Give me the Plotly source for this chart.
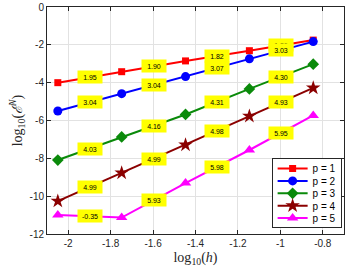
import plotly.graph_objects as go

# ---- data ----
log_h = [-2.049, -1.748, -1.447, -1.146, -0.845]
err_p1 = [-4.00, -3.42, -2.85, -2.31, -1.75]
err_p2 = [-5.50, -4.58, -3.68, -2.74, -1.83]
err_p3 = [-8.09, -6.87, -5.68, -4.33, -3.02]
err_p4 = [-10.26, -8.77, -7.29, -5.77, -4.28]
err_p5 = [-11.00, -11.13, -9.31, -7.56, -5.73]

rates_p1 = ["1.95", "1.90", "1.82", "1.86"]
rates_p2 = ["3.04", "3.04", "3.07", "3.03"]
rates_p3 = ["4.03", "4.16", "4.31", "4.30"]
rates_p4 = ["4.99", "4.99", "4.98", "4.93"]
rates_p5 = ["-0.35", "5.93", "5.98", "5.95"]

series_names = ["p = 1", "p = 2", "p = 3", "p = 4", "p = 5"]
x_tick_vals = [-2.0, -1.8, -1.6, -1.4, -1.2, -1.0, -0.8]
x_tick_text = ["-2", "-1.8", "-1.6", "-1.4", "-1.2", "-1", "-0.8"]
y_tick_vals = [0, -2, -4, -6, -8, -10, -12]
y_tick_text = ["0", "-2", "-4", "-6", "-8", "-10", "-12"]

# ---- styles ----
errs = [err_p1, err_p2, err_p3, err_p4, err_p5]
rates = [rates_p1, rates_p2, rates_p3, rates_p4, rates_p5]
colors = ["#ff0000", "#0000ff", "#0a8a0a", "#8b0000", "#ff00ff"]
symbols = ["square", "circle", "diamond", "star", "triangle-up"]
sizes = [7, 9, 9, 11, 10]

fig = go.Figure()
for name, ys, c, s, sz in zip(series_names, errs, colors, symbols, sizes):
    fig.add_trace(go.Scatter(
        x=log_h, y=ys, mode="lines+markers", name=name,
        line=dict(color=c, width=2),
        marker=dict(symbol=s, size=sz, color=c, line=dict(width=0)),
    ))

annotations = []
for ys, rs in zip(errs, rates):
    for i, r in enumerate(rs):
        annotations.append(dict(
            x=(log_h[i] + log_h[i + 1]) / 2, y=(ys[i] + ys[i + 1]) / 2,
            xref="x", yref="y", text=r, showarrow=False,
            bgcolor="#ffff00", width=24, height=12, borderpad=0,
            font=dict(family="Liberation Sans, Arial", size=7, color="#000000"),
        ))

axis_common = dict(
    showline=True, linecolor="#262626", linewidth=1, mirror="ticks",
    ticks="inside", ticklen=4, tickcolor="#262626",
    showgrid=True, gridcolor="#e2e2e2", gridwidth=1, zeroline=False,
    ticklabeloverflow="allow",
    tickfont=dict(family="Liberation Sans, Arial", size=10, color="#262626"),
)

fig.update_layout(
    width=346, height=271,
    margin=dict(l=47, r=1, t=5, b=37),
    paper_bgcolor="white", plot_bgcolor="white",
    hovermode=False,
    xaxis=dict(range=[-2.1, -0.7], tickvals=x_tick_vals, ticktext=x_tick_text,
               title=dict(text="log<sub>10</sub>(<i>h</i>)", standoff=4,
                          font=dict(family="Liberation Serif, DejaVu Serif", size=14, color="#262626")),
               **axis_common),
    yaxis=dict(range=[-12, 0], tickvals=y_tick_vals, ticktext=y_tick_text,
               title=dict(text="log<sub>10</sub>(<i>ℰ</i><sup><i>N</i></sup>)", standoff=3,
                          font=dict(family="Liberation Serif, DejaVu Serif", size=14, color="#262626")),
               **axis_common),
    legend=dict(x=0.992, y=0.032, xanchor="right", yanchor="bottom",
                bgcolor="white", bordercolor="#262626", borderwidth=1,
                font=dict(family="Liberation Sans, Arial", size=10, color="#000000"),
                itemwidth=30, tracegroupgap=0),
    annotations=annotations,
    showlegend=True,
)

# compact legend rows (MATLAB-style spacing) after plotly has drawn it
post_js = r"""
document.body.style.margin='0';document.body.style.padding='0';
(function(){
  var gd=document.getElementById('{plot_id}');
  var re=/translate\(\s*([-\d.e]+)[ ,]+([-\d.e]+)\s*\)/;
  var TOP=158.3, H=68.4, FIRST=10.2, STEP=12.4;
  function fix(){
    var leg=gd.querySelector('g.legend'); if(!leg) return;
    var tr=leg.querySelectorAll('g.traces'); if(!tr.length) return;
    for(var j=0;j<tr.length;j++){
      var m=re.exec(tr[j].getAttribute('transform')||''); if(!m) continue;
      tr[j].setAttribute('transform','translate('+m[1]+','+(FIRST+j*STEP)+')');
    }
    var bg=leg.querySelector('rect.bg'); if(bg){bg.setAttribute('height',H);}
    var lm=re.exec(leg.getAttribute('transform')||'');
    if(lm){leg.setAttribute('transform','translate('+lm[1]+','+TOP+')');}
  }
  fix(); setTimeout(fix,0);
  if(gd.on){gd.on('plotly_afterplot',fix);}
})();
"""

fig.write_html("out.html", config={"displayModeBar": False, "staticPlot": True},
               post_script=post_js)
